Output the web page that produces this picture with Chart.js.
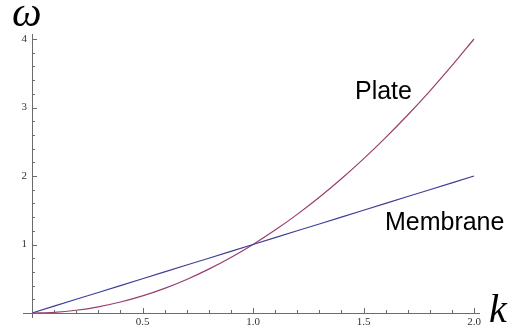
<!DOCTYPE html>
<html>
<head>
<meta charset="utf-8">
<script src="https://cdn.jsdelivr.net/npm/chart.js@4"></script>
<style>
  html, body { margin: 0; padding: 0; background: #ffffff; }
  #wrap { width: 513px; height: 336px; }
</style>
</head>
<body>
<div id="wrap"><canvas id="c" width="513" height="336"></canvas></div>
<script>
// Wavenumber samples
const kValues = [0, 0.1, 0.2, 0.3, 0.4, 0.5, 0.6, 0.7, 0.8, 0.9, 1.0,
                 1.1, 1.2, 1.3, 1.4, 1.5, 1.6, 1.7, 1.8, 1.9, 2.0];
// Frequency of the membrane (linear dispersion)
const membraneOmega = [0, 0.1, 0.2, 0.3, 0.4, 0.5, 0.6, 0.7, 0.8, 0.9, 1.0,
                       1.1, 1.2, 1.3, 1.4, 1.5, 1.6, 1.7, 1.8, 1.9, 2.0];
// Frequency of the plate (quadratic dispersion)
const plateOmega = [0, 0.01, 0.04, 0.09, 0.16, 0.25, 0.36, 0.49, 0.64, 0.81, 1.0,
                    1.21, 1.44, 1.69, 1.96, 2.25, 2.56, 2.89, 3.24, 3.61, 4.0];
// Tick labels
const xTickLabels = ['0.5', '1.0', '1.5', '2.0'];
const xTickValues = [0.5, 1.0, 1.5, 2.0];
const yTickLabels = ['1', '2', '3', '4'];
const yTickValues = [1, 2, 3, 4];
const seriesNames = ['Membrane', 'Plate'];

const toPoints = (xs, ys) => xs.map((x, i) => ({ x: x, y: ys[i] }));

// Axes drawn through the origin with inward major/minor ticks
const axesPlugin = {
  id: 'originAxes',
  afterDatasetsDraw(chart) {
    const { ctx, scales: { x, y } } = chart;
    const x0 = x.getPixelForValue(0), y0 = y.getPixelForValue(0);
    const xEnd = x.getPixelForValue(2), yEnd = y.getPixelForValue(4);
    ctx.save();
    ctx.strokeStyle = '#6b6b6b';
    ctx.lineWidth = 1;
    ctx.beginPath();
    ctx.moveTo(x0 - 9, y0 + 0.5); ctx.lineTo(xEnd + 6, y0 + 0.5);
    ctx.moveTo(x0 + 0.5, y0 + 5); ctx.lineTo(x0 + 0.5, yEnd - 5);
    // x ticks every 0.1, major every 0.5
    for (let i = 1; i <= 20; i++) {
      const px = Math.round(x.getPixelForValue(i / 10)) + 0.5;
      const len = (i % 5 === 0) ? 5 : 3;
      ctx.moveTo(px, y0); ctx.lineTo(px, y0 - len);
    }
    // y ticks every 0.2, major every 1
    for (let i = 1; i <= 20; i++) {
      const py = Math.round(y.getPixelForValue(i / 5)) + 0.5;
      const len = (i % 5 === 0) ? 5 : 3;
      ctx.moveTo(x0, py); ctx.lineTo(x0 + len, py);
    }
    ctx.stroke();

    ctx.fillStyle = '#333333';
    ctx.font = '11px "Liberation Serif", "DejaVu Serif", serif';
    ctx.textAlign = 'center';
    ctx.textBaseline = 'top';
    xTickValues.forEach((v, i) => {
      ctx.fillText(xTickLabels[i], x.getPixelForValue(v), y0 + 4);
    });
    ctx.textAlign = 'right';
    ctx.textBaseline = 'middle';
    yTickValues.forEach((v, i) => {
      ctx.fillText(yTickLabels[i], x0 - 5, y.getPixelForValue(v));
    });

    // axis names
    ctx.fillStyle = '#000000';
    ctx.font = 'italic 42px "Liberation Serif", "DejaVu Serif", serif';
    ctx.textAlign = 'left';
    ctx.textBaseline = 'alphabetic';
    ctx.fillText('\u03c9', x0 - 20, yEnd - 13);
    ctx.font = 'italic 40px "Liberation Serif", "DejaVu Serif", serif';
    ctx.fillText('k', xEnd + 15, y0 + 9);

    // curve names
    ctx.font = '25px "Liberation Sans", Arial, sans-serif';
    ctx.fillText(seriesNames[1], x.getPixelForValue(1.4615), y.getPixelForValue(3.124));
    ctx.fillText(seriesNames[0], x.getPixelForValue(1.597), y.getPixelForValue(1.21));
    ctx.restore();
  }
};

new Chart(document.getElementById('c'), {
  type: 'scatter',
  data: {
    datasets: [
      {
        label: seriesNames[0],
        data: toPoints(kValues, membraneOmega),
        showLine: true,
        borderColor: '#3d3d99',
        borderWidth: 1.2,
        pointRadius: 0,
        fill: false
      },
      {
        label: seriesNames[1],
        data: toPoints(kValues, plateOmega),
        showLine: true,
        borderColor: '#993d71',
        borderWidth: 1.2,
        pointRadius: 0,
        cubicInterpolationMode: 'monotone',
        fill: false
      }
    ]
  },
  options: {
    responsive: false,
    animation: false,
    clip: false,
    layout: { padding: { left: 32, right: 39, top: 39, bottom: 23 } },
    plugins: { legend: { display: false }, tooltip: { enabled: false } },
    scales: {
      x: { type: 'linear', min: 0, max: 2, display: false },
      y: { type: 'linear', min: 0, max: 4, display: false }
    }
  },
  plugins: [axesPlugin]
});
</script>
</body>
</html>
